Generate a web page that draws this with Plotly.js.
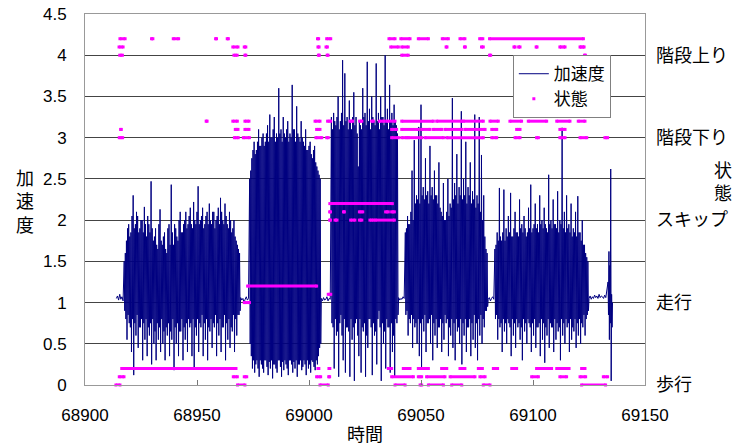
<!DOCTYPE html>
<html><head><meta charset="utf-8">
<script src="https://cdn.plot.ly/plotly-3.0.1.min.js"></script>
<style>html,body{margin:0;padding:0;background:#fff}#chart{width:735px;height:447px}</style>
</head><body><div id="chart"></div>
<script>
// ---- axes / labels ----
const xRange = [68900, 69150];
const yRange = [0, 4.5];
const stateTickVals = [0, 1, 2, 3, 4];
const stateTickText = ['歩行', '走行', 'スキップ', '階段下り', '階段上り'];

// ---- acceleration (加速度) ----
// quiet stretches (sampled every 0.5 s)
const idle0 = [1.05, 1.08, 1.03, 1.10, 1.04, 1.07, 1.02];
const idle1 = [1.06, 1.03, 1.05, 1.00, 1.04, 1.07, 1.03, 1.05];
const idle2 = [1.05, 1.02, 1.06, 1.03, 1.04, 1.07, 1.02, 1.05, 1.04];
const idle3 = [1.06, 1.03, 1.05, 1.04, 1.07, 1.05];
const idle4 = [1.04, 1.06, 1.02, 1.05, 1.07, 1.04];
const idle5 = [1.05, 1.08, 1.04, 1.07, 1.05, 1.09, 1.06, 1.08, 1.05, 1.10, 1.06, 1.08, 1.07, 1.05, 1.09, 1.06];
const blip = [1.25, 0.85, 1.62, 0.55, 1.45, 0.75, 2.62, 0.05, 1.10, 0.70, 1.00];

// active stretches: peaks (every 0.5 s) and troughs (a quarter second later)
const walkHigh = [1.5,1.6, 1.75,1.9, 1.95,1.8, 1.85,2.05, 2.3,1.9, 1.95,2.1, 2.05,1.85, 1.9,2.0, 2.0,1.85, 2.16,1.95,
  1.8,2.05, 1.95,1.85, 2.47,1.9, 1.75,1.8, 1.9,1.7, 1.65,1.95, 2.13,1.75, 1.7,1.8, 1.85,1.65, 1.6,1.9,
  1.95,1.7, 2.43,1.85, 1.7,1.95, 1.9,1.8, 1.75,2.0, 2.1,1.85, 1.85,1.95, 2.0,2.1, 1.9,1.95, 2.05,2.15,
  1.95,1.9, 2.22,2.0, 1.95,2.1, 2.41,1.95, 2.0,2.05, 2.15,1.9, 1.95,2.05, 2.1,1.95, 2.2,2.0, 1.95,2.1,
  2.1,1.9, 2.0,2.05, 2.15,1.95, 2.27,2.1, 2.0,1.95, 2.2,2.05, 1.95,1.9, 2.1,2.0, 1.85,1.9, 2.0,1.8,
  1.75,1.7, 1.65,1.6];
const walkLow = [0.9,0.8, 0.55,0.85, 0.75,0.7, 0.4,0.8, 0.12,0.75, 0.6,0.85, 0.45,0.7, 0.7,0.8, 0.3,0.75, 0.55,0.8,
  0.35,0.7, 0.6,0.75, 0.25,0.8, 0.5,0.65, 0.3,0.75, 0.55,0.7, 0.4,0.8, 0.5,0.65, 0.3,0.7, 0.6,0.75,
  0.35,0.65, 0.55,0.8, 0.18,0.7, 0.5,0.75, 0.35,0.65, 0.65,0.8, 0.3,0.7, 0.55,0.75, 0.4,0.8, 0.7,0.75,
  0.35,0.8, 0.2,0.7, 0.6,0.8, 0.4,0.75, 0.7,0.85, 0.35,0.75, 0.55,0.8, 0.3,0.7, 0.65,0.8, 0.45,0.75,
  0.7,0.85, 0.35,0.75, 0.6,0.8, 0.4,0.7, 0.7,0.85, 0.3,0.75, 0.55,0.8, 0.45,0.7, 0.65,0.85, 0.4,0.8,
  0.6,0.85, 0.85,0.9];
const runHigh = [2.5,2.6, 2.75,2.85, 2.95,2.8, 2.85,2.95, 3.1,2.9, 2.9,3.0, 3.05,2.9, 2.95,3.05, 3.15,2.95, 3.28,3.0,
  3.0,3.1, 3.25,2.95, 3.05,3.0, 3.6,3.05, 3.1,2.95, 3.25,3.05, 3.0,3.1, 3.2,2.95, 3.05,3.0, 3.64,3.1,
  3.1,2.95, 3.38,3.05, 3.0,2.95, 3.2,3.0, 2.95,2.9, 3.1,2.85, 2.85,2.9, 2.95,2.8, 2.75,2.85, 2.9,2.7,
  2.65,2.6, 2.55,2.5];
const runLow = [0.5,0.35, 0.2,0.3, 0.15,0.25, 0.3,0.2, 0.1,0.3, 0.25,0.2, 0.15,0.3, 0.3,0.22, 0.12,0.28, 0.2,0.3,
  0.08,0.25, 0.25,0.2, 0.15,0.3, 0.3,0.22, 0.1,0.28, 0.18,0.3, 0.25,0.2, 0.12,0.3, 0.3,0.25, 0.15,0.28,
  0.2,0.3, 0.1,0.25, 0.25,0.3, 0.18,0.22, 0.3,0.25, 0.12,0.3, 0.2,0.25, 0.15,0.3, 0.28,0.22, 0.18,0.3,
  0.25,0.35, 0.45,0.5];
const skipHigh = [3.25,3.1, 3.3,3.2, 3.15,3.25, 3.5,3.1, 3.2,3.3, 3.94,3.15, 3.78,3.2, 3.25,3.1, 3.45,3.2, 3.1,3.25,
  3.55,3.15, 3.25,3.05, 2.65,3.2, 3.15,3.1, 3.6,3.25, 3.3,3.15, 3.92,3.2, 3.35,3.1, 3.5,3.25, 3.2,3.15,
  3.9,3.2, 3.3,3.1, 3.5,3.25, 3.25,3.15, 4.0,3.2, 3.35,3.1, 3.64,3.2, 3.3,3.15, 3.4,3.2, 3.15,3.05];
const skipLow = [0.75,0.7, 0.2,0.8, 0.6,0.65, 0.1,0.75, 0.85,0.6, 0.3,0.8, 0.15,0.7, 0.7,0.65, 0.1,0.8, 0.55,0.7,
  0.05,0.75, 0.8,0.6, 0.35,0.8, 0.15,0.7, 0.65,0.75, 0.1,0.6, 0.45,0.8, 0.8,0.7, 0.12,0.75, 0.6,0.65,
  0.25,0.8, 0.9,0.7, 0.05,0.75, 0.5,0.65, 0.2,0.8, 0.7,0.7, 0.15,0.75, 0.4,0.6, 0.1,0.8, 0.75,0.85];
const stairDownHigh = [1.85,1.9, 2.05,1.95, 1.95,2.1, 2.6,2.0, 2.97,2.2, 2.3,2.25, 3.13,2.2, 3.4,2.3, 2.4,2.25, 2.75,2.3,
  2.35,2.2, 2.9,2.3, 2.4,2.25, 2.6,2.3, 2.3,2.2, 2.7,2.15, 2.1,2.05, 2.45,2.0, 2.0,2.1, 2.5,2.05,
  2.2,2.15, 3.48,2.25, 2.45,2.3, 2.8,2.2, 2.4,2.3, 3.32,2.25, 2.5,2.3, 2.95,2.2, 2.4,2.3, 2.7,2.2,
  2.35,2.25, 3.28,2.15, 2.3,2.2, 3.25,2.1, 2.79,2.0, 2.3,1.8, 1.65,1.6];
const stairDownLow = [0.85,0.9, 0.6,0.8, 0.75,0.85, 0.45,0.8, 0.7,0.75, 0.5,0.8, 0.35,0.75, 0.22,0.8, 0.65,0.85, 0.4,0.75,
  0.75,0.8, 0.5,0.85, 0.3,0.75, 0.6,0.8, 0.45,0.7, 0.7,0.8, 0.4,0.75, 0.55,0.85, 0.75,0.8, 0.35,0.7,
  0.6,0.8, 0.45,0.75, 0.3,0.8, 0.65,0.7, 0.5,0.8, 0.25,0.75, 0.6,0.8, 0.4,0.7, 0.7,0.8, 0.35,0.75,
  0.55,0.85, 0.45,0.75, 0.3,0.8, 0.6,0.85, 0.5,0.8, 0.7,0.9, 0.9,0.95];
const stairUpHigh = [1.65,1.7, 1.85,1.75, 2.39,1.8, 1.75,1.85, 2.37,1.75, 1.9,1.8, 2.05,1.85, 2.33,1.8, 1.8,1.9, 2.1,1.85,
  1.85,1.8, 2.25,1.9, 1.95,1.85, 2.05,1.9, 1.8,1.85, 2.15,1.9, 2.43,1.85, 1.9,1.95, 2.2,1.9, 1.95,1.85,
  2.3,1.95, 2.0,1.9, 2.15,1.95, 1.9,1.85, 2.55,1.95, 2.0,1.9, 2.25,1.95, 1.95,1.9, 2.35,1.85, 2.0,1.95,
  3.12,1.9, 2.1,1.85, 2.3,1.9, 1.95,1.85, 2.2,1.8, 1.9,1.85, 2.1,1.8, 2.29,1.85, 1.85,1.75, 2.0,1.7,
  1.7,1.6, 1.55,1.5];
const stairUpLow = [0.8,0.85, 0.55,0.8, 0.7,0.75, 0.4,0.8, 0.65,0.75, 0.5,0.8, 0.75,0.7, 0.35,0.8, 0.6,0.75, 0.45,0.8,
  0.7,0.75, 0.55,0.7, 0.3,0.8, 0.65,0.75, 0.5,0.8, 0.75,0.7, 0.4,0.75, 0.6,0.8, 0.45,0.7, 0.7,0.75,
  0.35,0.8, 0.55,0.75, 0.27,0.7, 0.6,0.8, 0.45,0.75, 0.7,0.7, 0.4,0.8, 0.55,0.75, 0.65,0.7, 0.3,0.8,
  0.6,0.75, 0.5,0.8, 0.7,0.75, 0.4,0.8, 0.55,0.7, 0.65,0.8, 0.45,0.75, 0.6,0.8, 0.5,0.75, 0.7,0.85,
  0.6,0.8, 0.85,0.9];

// ---- state (状態): runs of dots per level, as [start, end] time pairs ----
const st00 = [68913.8,68915.6, 68968.1,68971.4, 69004.9,69008.6, 69038.4,69042.9, 69049.6,69050.3, 69053.3,69060, 69063.7,69068.2, 69077.8,69080.8, 69121.7,69132.4];
const st01 = [68915.3,68917.4, 68966.2,68968, 68971.1,68972.2, 69003.4,69005.2, 69008.8,69009.2, 69036.9,69046.6, 69048.8,69050.3, 69052.5,69060.7, 69063,69074.1, 69076.3,69078.6, 69099.4,69102.4, 69112,69115, 69121,69123.5, 69131.4,69133.3];
const st02 = [68916.4,68967.4, 69004,69004.4, 69008.9,69009.3, 69035.4,69036.9, 69042.1,69045.1, 69048.8,69053.3, 69059.2,69061.5, 69067.4,69069.6, 69075.6,69077.4, 69082.3,69084.2, 69090.5,69092.7, 69101.6,69108.3, 69110.6,69116.1, 69121.7,69123.2];
const st10 = [68971.1,68973.4];
const st11 = [69008.6,69009.7];
const st12 = [68972.6,69003.4];
const st20 = [69009.2,69009.6, 69011.6,69012.5, 69018.6,69020.5, 69022.5,69023.6, 69027.2,69028.7, 69029.6,69038.1];
const st21 = [69009.2,69009.6, 69015.4,69015.8, 69022.5,69024, 69034.2,69035.4, 69036.9,69038.1];
const st22 = [69009.3,69037.2];
const st30 = [68915.3,68916.8, 68966.7,68968.4, 68970.7,68973.4, 69003.1,69005.7, 69007.9,69008.6, 69036.9,69039.9, 69041.4,69043.6, 69044.3,69050.3, 69051.8,69060, 69061.5,69077.8, 69081.6,69083.8, 69092,69094.2, 69101.6,69102.4, 69112,69114.3, 69121,69124, 69132.1,69133.3];
const st31 = [68915.9,68916.2, 68967.1,68968.3, 68971.4,68973.2, 69003.4,69004.9, 69036.9,69039.1, 69041.4,69048.8, 69050.3,69054, 69055.5,69059.2, 69060.7,69068.2, 69069.6,69078.6, 69081.6,69083.8, 69092.7,69094.2, 69112,69114.3];
const st32 = [68954.1,68954.5, 68966,68968, 68971.4,68973.2, 69002.7,69004.9, 69008.3,69009.7, 69018.3,69019.5, 69022.6,69023.6, 69028,69028.7, 69031.4,69033.5, 69034.7,69038.4, 69041.4,69055.5, 69057,69068.2, 69068.9,69077.8, 69080.8,69084.5, 69089.7,69094.9, 69097.9,69106.1, 69110.6,69116.5, 69120.2,69123.2];
const st40 = [68915.5,68916.7, 68966.5,68967.9, 68971.4,68971.8, 69004.2,69004.6, 69008.1,69008.5, 69041.4,69044.3, 69080.6,69081.1, 69123,69123.4];
const st41 = [68915.2,68917, 68966,68968.3, 68971.1,68971.8, 69004,69004.5, 69007.6,69008.2, 69036.5,69039.9, 69041.4,69044.3, 69061.2,69061.6, 69069.4,69069.8, 69077,69077.8, 69091.5,69092, 69093.6,69094.2, 69101.4,69101.8, 69112,69112.6, 69113.7,69114.3, 69121,69121.5, 69122.3,69122.8];
const st42 = [68915.6,68917.9, 68929.7,68930.3, 68939.4,68941.8, 68958.3,68958.7, 68963.5,68964, 69003.8,69004.3, 69007.9,69009.7, 69035.7,69038.4, 69041,69045.1, 69048.8,69053.3, 69059.5,69062.2, 69067.4,69069.6, 69076.2,69077.6, 69080.6,69122.5];
const stateLevels = [0, 0.1, 0.2, 1, 1.1, 1.2, 2, 2.1, 2.2, 3, 3.1, 3.2, 4, 4.1, 4.2];
const stateRuns = [st00, st01, st02, st10, st11, st12, st20, st21, st22, st30, st31, st32, st40, st41, st42];

// ---- assemble ----
const accX = [], accY = [];
function addQuiet(t0, dt, vals) { vals.forEach((v, i) => { accX.push(t0 + i * dt); accY.push(v); }); }
function addActive(t0, hi, lo) { hi.forEach((h, i) => { accX.push(t0 + 0.5 * i); accY.push(h); accX.push(t0 + 0.5 * i + 0.25); accY.push(lo[i]); }); }
addQuiet(68914, 0.5, idle0);
addActive(68917.5, walkHigh, walkLow);
addQuiet(68969.5, 0.5, idle1);
addActive(68973.5, runHigh, runLow);
addQuiet(69005.5, 0.5, idle2);
addActive(69010, skipHigh, skipLow);
addQuiet(69040, 0.5, idle3);
addActive(69043, stairDownHigh, stairDownLow);
addQuiet(69080, 0.5, idle4);
addActive(69083, stairUpHigh, stairUpLow);
addQuiet(69125, 0.5, idle5);
addQuiet(69133.5, 0.2, blip);

const stX = [], stY = [];
stateRuns.forEach((runs, k) => {
  for (let i = 0; i < runs.length; i += 2) {
    stX.push(runs[i], runs[i + 1], null);
    stY.push(stateLevels[k], stateLevels[k], null);
  }
});

const NUM = 'Liberation Sans, Noto Sans CJK JP, sans-serif';
const CJK = 'Noto Sans CJK JP, sans-serif';
const MAG = '#ff00ff', NAVY = '#000080';

const traces = [
  { x: accX, y: accY, type: 'scatter', mode: 'lines', name: '加速度',
    line: { color: NAVY, width: 1, simplify: false }, hoverinfo: 'skip' },
  { x: stX, y: stY, type: 'scatter', mode: 'lines+markers', name: '状態', yaxis: 'y2',
    line: { color: MAG, width: 3, simplify: false }, marker: { color: MAG, size: 3, symbol: 'square' },
    showlegend: false, cliponaxis: false, hoverinfo: 'skip' },
  { x: [null], y: [null], type: 'scatter', mode: 'markers', name: '状態', yaxis: 'y2',
    marker: { color: MAG, size: 3, symbol: 'square' } }
];

const layout = {
  width: 735, height: 447,
  margin: { l: 85, r: 90, t: 14, b: 62 },
  paper_bgcolor: '#fff', plot_bgcolor: '#fff',
  font: { family: NUM, size: 17, color: '#000' },
  showlegend: true,
  legend: { x: 0.764, y: 0.889, xanchor: 'left', yanchor: 'top', bgcolor: '#fff',
    bordercolor: '#808080', borderwidth: 1, font: { family: CJK, size: 17 },
    itemwidth: 30, tracegroupgap: 0 },
  xaxis: { range: xRange, dtick: 50, tick0: 68900, tickformat: 'd', ticks: 'inside', ticklen: 5,
    tickcolor: '#777', showline: true, linecolor: '#999', mirror: true, showgrid: false,
    zeroline: false, tickfont: { family: NUM, size: 17 }, ticklabelstandoff: 15 },
  yaxis: { range: yRange, dtick: 0.5, showgrid: true, gridcolor: '#444', gridwidth: 1,
    showline: true, linecolor: '#999', mirror: true, zeroline: false, ticks: '',
    tickfont: { family: NUM, size: 17 }, ticklabelstandoff: 14 },
  yaxis2: { overlaying: 'y', side: 'right', range: yRange, tickvals: stateTickVals, ticktext: stateTickText,
    showgrid: false, zeroline: false, showline: false, ticks: '',
    tickfont: { family: CJK, size: 18 }, ticklabelstandoff: 10 },
  annotations: [
    { text: '時間', xref: 'paper', yref: 'paper', x: 0.5, y: -0.13, xanchor: 'center', yanchor: 'middle',
      showarrow: false, font: { family: CJK, size: 18 } },
    { text: '加<br>速<br>度', xref: 'paper', yref: 'paper', x: -0.107, y: 0.496, xanchor: 'center', yanchor: 'middle',
      showarrow: false, font: { family: CJK, size: 18 } },
    { text: '状<br>態', xref: 'paper', yref: 'paper', x: 1.139, y: 0.55, xanchor: 'center', yanchor: 'middle',
      showarrow: false, font: { family: CJK, size: 18 } }
  ]
};

Plotly.newPlot('chart', traces, layout, { staticPlot: true, displayModeBar: false });
</script>
</body></html>
